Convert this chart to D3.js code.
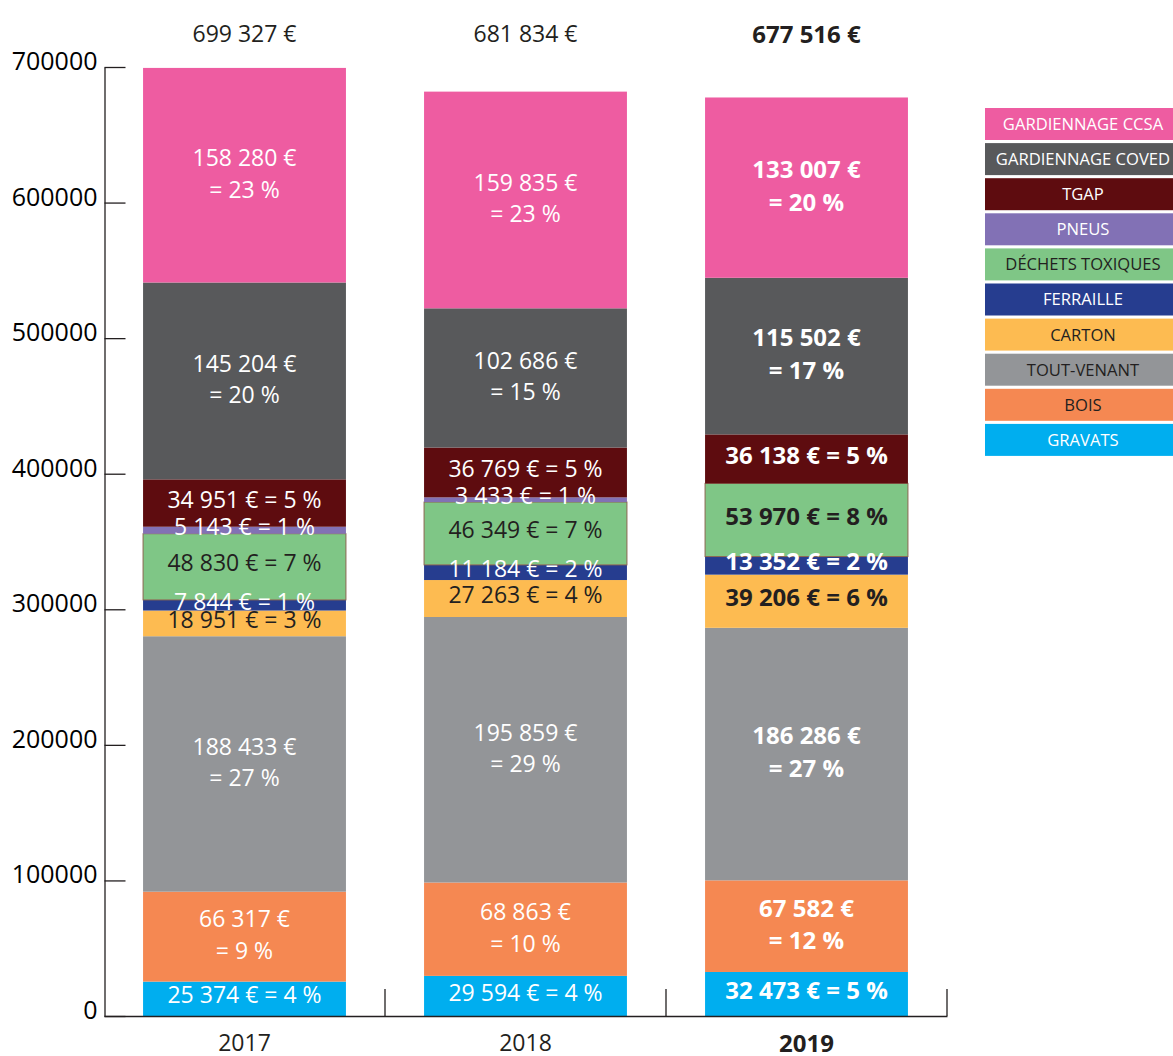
<!DOCTYPE html>
<html>
<head>
<meta charset="utf-8">
<script src="https://cdn.jsdelivr.net/npm/d3@7"></script>
<style>
  body { margin: 0; background: #fff; }
  svg { display: block; font-family: "Open Sans", sans-serif; }
</style>
</head>
<body>
<svg id="chart" width="1173" height="1056"></svg>
<script>
// categories from bottom to top of each stack
var categories = ["GRAVATS", "BOIS", "TOUT-VENANT", "CARTON", "FERRAILLE",
    "DÉCHETS TOXIQUES", "PNEUS", "TGAP", "GARDIENNAGE COVED", "GARDIENNAGE CCSA"];
var years = ["2017", "2018", "2019"];

var values2017 = [25374, 66317, 188433, 18951, 7844, 48830, 5143, 34951, 145204, 158280];
var values2018 = [29594, 68863, 195859, 27263, 11184, 46349, 3433, 36769, 102686, 159835];
var values2019 = [32473, 67582, 186286, 39206, 13352, 53970, 0, 36138, 115502, 133007];

// percentages as printed on the chart
var pct2017 = [4, 9, 27, 3, 1, 7, 1, 5, 20, 23];
var pct2018 = [4, 10, 29, 4, 2, 7, 1, 5, 15, 23];
var pct2019 = [5, 12, 27, 6, 2, 8, 0, 5, 17, 20];

var totals = [699327, 681834, 677516];
var yTicks = [0, 100000, 200000, 300000, 400000, 500000, 600000, 700000];

var allValues = [values2017, values2018, values2019];
var allPct = [pct2017, pct2018, pct2019];

var colors = ["#00aeef", "#f58852", "#939598", "#fdbb51", "#263d8f",
    "#7fc686", "#8271b5", "#5e0c0f", "#58595b", "#ee5ca1"];
var darkText = ["DÉCHETS TOXIQUES", "CARTON"];
var darkLegend = ["DÉCHETS TOXIQUES", "CARTON", "TOUT-VENANT", "BOIS"];
var ink = "#231f20";

var fr = d3.formatLocale({decimal: ",", thousands: " ", grouping: [3], currency: ["", " €"]});
var num = fr.format(",d");

var svg = d3.select("#chart");

var y = d3.scaleLinear().domain([0, 700000]).range([1016, 67]);
var x = d3.scaleBand().domain(years).range([104, 947]).padding(0);
var barW = x.bandwidth() * 0.722;

// rows for the stack
var rows = years.map(function(yr, i) {
    var r = {year: yr, idx: i};
    categories.forEach(function(c, j) { r[c] = allValues[i][j]; });
    return r;
});
var series = d3.stack().keys(categories)(rows);

var layer = svg.selectAll("g.layer")
    .data(series)
    .enter().append("g")
    .attr("class", "layer")
    .attr("fill", function(d, i) { return colors[i]; });

layer.selectAll("rect")
    .data(function(d) { return d.filter(function(p) { return p[1] - p[0] > 0; }); })
    .enter().append("rect")
    .attr("x", function(d) { return x(d.data.year) + (x.bandwidth() - barW) / 2; })
    .attr("width", barW)
    .attr("y", function(d) { return y(d[1]); })
    .attr("height", function(d) { return y(d[0]) - y(d[1]); })
    .attr("stroke", function() {
        return d3.select(this.parentNode).datum().key == "DÉCHETS TOXIQUES" ? "#8a6650" : "none";
    })
    .attr("stroke-width", 1);

// segment labels
series.forEach(function(s, j) {
    s.forEach(function(p, i) {
        var v = p[1] - p[0];
        if (v <= 0) return;
        var cx = x(p.data.year) + x.bandwidth() / 2;
        var cy = (y(p[0]) + y(p[1])) / 2;
        var h = y(p[0]) - y(p[1]);
        var t = svg.append("text")
            .attr("x", cx)
            .attr("y", cy)
            .attr("text-anchor", "middle")
            .style("font-size", i == 2 ? "24px" : "23px")
            .style("font-weight", i == 2 ? "bold" : "normal")
            .attr("fill", darkText.indexOf(s.key) >= 0 ? ink : "#fff");
        if (h > 80) {
            t.append("tspan").attr("x", cx).attr("dy", "-0.4em").text(num(v) + " €");
            t.append("tspan").attr("x", cx).attr("dy", "1.37em").text("= " + allPct[i][j] + " %");
        } else {
            t.attr("dy", "0.2em").text(num(v) + " € = " + allPct[i][j] + " %");
        }
    });
});

// totals above bars
svg.selectAll("text.total")
    .data(years)
    .enter().append("text")
    .attr("class", "total")
    .attr("x", function(d) { return x(d) + x.bandwidth() / 2; })
    .attr("y", 34)
    .attr("dy", "0.36em")
    .attr("text-anchor", "middle")
    .attr("fill", ink)
    .style("font-size", function(d, i) { return i == 2 ? "24px" : "23px"; })
    .style("font-weight", function(d, i) { return i == 2 ? "bold" : "normal"; })
    .text(function(d, i) { return num(totals[i]) + " €"; });

// y axis
var yAxis = svg.append("g")
    .attr("transform", "translate(104.5,0)")
    .call(d3.axisLeft(y).tickValues(yTicks).tickFormat(d3.format("d"))
        .tickSizeInner(-21).tickSizeOuter(0).tickPadding(7));
yAxis.selectAll("text").attr("dy", "0.1em").style("font-size", "25px").attr("fill", "#000")
    .style("font-family", "'Open Sans', sans-serif");
yAxis.selectAll("line, path").attr("stroke", "#231f20").attr("stroke-width", 1.3);

// x axis
var xAxis = svg.append("g")
    .attr("transform", "translate(0,1016)")
    .call(d3.axisBottom(x).tickSize(0).tickSizeOuter(0).tickPadding(19));
xAxis.selectAll("text")
    .style("font-size", function(d, i) { return i == 2 ? "24px" : "23px"; })
    .style("font-family", "'Open Sans', sans-serif")
    .style("font-weight", function(d, i) { return i == 2 ? "bold" : "normal"; })
    .attr("fill", ink);
xAxis.select("path").attr("stroke", "#231f20").attr("stroke-width", 1.3);
xAxis.selectAll("line.sep")
    .data(years)
    .enter().append("line")
    .attr("class", "sep")
    .attr("x1", function(d) { return x(d) + x.bandwidth(); })
    .attr("x2", function(d) { return x(d) + x.bandwidth(); })
    .attr("y1", 0).attr("y2", -27)
    .attr("stroke", "#231f20").attr("stroke-width", 1.3);

// legend, top item is the last category
var legendItems = categories.slice().reverse();
var legend = svg.append("g").attr("transform", "translate(985,108)");
var item = legend.selectAll("g")
    .data(legendItems)
    .enter().append("g")
    .attr("transform", function(d, i) { return "translate(0," + (i * 35.1) + ")"; });
item.append("rect")
    .attr("width", 188).attr("height", 32)
    .attr("fill", function(d) { return colors[categories.indexOf(d)]; });
item.append("text")
    .attr("x", 98).attr("y", 16).attr("dy", "0.36em")
    .attr("text-anchor", "middle")
    .style("font-size", "16.6px")
    .attr("fill", function(d) { return darkLegend.indexOf(d) >= 0 ? ink : "#fff"; })
    .text(function(d) { return d; });
</script>
</body>
</html>
